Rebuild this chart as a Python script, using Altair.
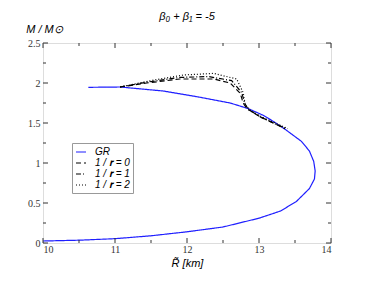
import altair as alt
import pandas as pd

# GR curve (R in km, M in solar masses)
gr_R = [10.0, 10.5, 11.0, 11.5, 12.0, 12.5, 13.0, 13.3, 13.52, 13.7, 13.77, 13.78, 13.76, 13.7,
        13.59, 13.38, 13.2, 13.05, 12.85, 12.6, 12.13, 11.67, 11.07, 10.63]
gr_M = [0.025, 0.035, 0.054, 0.09, 0.14, 0.20, 0.31, 0.40, 0.52, 0.68, 0.80, 0.90, 1.02, 1.15,
        1.27, 1.41, 1.52, 1.60, 1.68, 1.75, 1.83, 1.90, 1.95, 1.946]

r0_R = [11.07, 11.44, 11.9, 12.37, 12.6, 12.74, 12.78, 12.83, 13.01, 13.2, 13.36]
r0_M = [1.95, 2.0, 2.05, 2.05, 2.0, 1.87, 1.75, 1.68, 1.58, 1.50, 1.43]

r1_R = [11.07, 11.44, 11.9, 12.3, 12.62, 12.76, 12.8, 12.85, 13.03, 13.22, 13.38]
r1_M = [1.95, 2.01, 2.07, 2.08, 2.03, 1.88, 1.75, 1.67, 1.57, 1.49, 1.43]

r2_R = [11.07, 11.5, 11.95, 12.37, 12.69, 12.78, 12.81, 12.88, 13.05, 13.25, 13.4]
r2_M = [1.95, 2.03, 2.10, 2.12, 2.05, 1.88, 1.72, 1.66, 1.57, 1.49, 1.43]

series_names = ["GR", "1 / 𝐫 = 0", "1 / 𝐫 = 1", "1 / 𝐫 = 2"]

x_major = [10, 11, 12, 13, 14]
x_minor = [10.5, 11.5, 12.5, 13.5]
y_major = [0, 0.5, 1, 1.5, 2, 2.5]
y_minor = [0.25, 0.75, 1.25, 1.75, 2.25]

rows = []
for name, Rs, Ms in zip(series_names, [gr_R, r0_R, r1_R, r2_R], [gr_M, r0_M, r1_M, r2_M]):
    for i, (r, m) in enumerate(zip(Rs, Ms)):
        rows.append({"series": name, "R": r, "M": m, "i": i})
df = pd.DataFrame(rows)

W, H = 288, 200
xs = alt.Scale(domain=[10, 14], nice=False, zero=False)
ys = alt.Scale(domain=[0, 2.5], nice=False, zero=False)

x_axis = alt.Axis(values=x_major, format="~g", ticks=False, domain=False, grid=False,
                  labelFont="Liberation Serif", labelFontSize=10,
                  labelColor="#333", labelPadding=1,
                  title="R̃ [km]", titleFont="Liberation Sans",
                  titleFontStyle="italic", titleFontWeight="normal",
                  titleFontSize=11, titlePadding=3, titleColor="black")
y_axis = alt.Axis(values=y_major, format="~g", ticks=False, domain=False,
                  grid=False, labelFont="Liberation Serif", labelFontSize=10,
                  labelColor="#333", labelPadding=3,
                  title="M / M⊙", titleAngle=0, titleX=1, titleY=-14,
                  titleAlign="center", titleBaseline="middle",
                  titleFont="Liberation Sans", titleFontStyle="italic",
                  titleFontWeight="normal", titleFontSize=11, titleColor="black")

lines = alt.Chart(df).mark_line(strokeWidth=1.2).encode(
    x=alt.X("R:Q", scale=xs, axis=x_axis),
    y=alt.Y("M:Q", scale=ys, axis=y_axis),
    color=alt.Color("series:N", scale=alt.Scale(domain=series_names,
                                                 range=["#1f1fff", "black", "black", "black"]),
                    legend=alt.Legend(title=None, orient="none", legendX=29, legendY=100,
                                      strokeColor="#999", padding=3, fillColor="white",
                                      labelFont="Liberation Sans", labelFontStyle="italic",
                                      labelFontSize=10, symbolType="stroke", symbolSize=100,
                                      symbolStrokeWidth=1.2, rowPadding=0, labelOffset=8)),
    strokeDash=alt.StrokeDash("series:N", scale=alt.Scale(domain=series_names,
                                                           range=[[1, 0], [5, 3], [5, 2, 1, 2], [1, 2]]),
                              legend=alt.Legend(title=None, orient="none", legendX=29, legendY=100)),
    order="i:Q",
)

def ticks(vals, orient, length):
    d = pd.DataFrame({"v": vals})
    c = alt.Chart(d).mark_rule(color="#333", strokeWidth=1)
    if orient == "bottom":
        return c.encode(x=alt.X("v:Q", scale=xs, axis=x_axis, title="R̃ [km]"), y=alt.value(H), y2=alt.value(H - length))
    if orient == "top":
        return c.encode(x=alt.X("v:Q", scale=xs, axis=x_axis, title="R̃ [km]"), y=alt.value(0), y2=alt.value(length))
    if orient == "left":
        return c.encode(y=alt.Y("v:Q", scale=ys, axis=y_axis, title="M / M⊙"), x=alt.value(0), x2=alt.value(length))
    return c.encode(y=alt.Y("v:Q", scale=ys, axis=y_axis, title="M / M⊙"), x=alt.value(W), x2=alt.value(W - length))

tick_layers = []
for o in ["bottom", "top"]:
    tick_layers.append(ticks(x_major, o, 5))
    tick_layers.append(ticks(x_minor, o, 3))
for o in ["left", "right"]:
    tick_layers.append(ticks(y_major, o, 5))
    tick_layers.append(ticks(y_minor, o, 3))

chart = alt.layer(lines, *tick_layers).properties(
    width=W, height=H,
    title=alt.Title("β₀ + β₁ = -5", font="Liberation Sans", fontStyle="italic",
                    fontWeight="normal", fontSize=11, anchor="middle", offset=1, frame="group",
                    color="black"),
    autosize=alt.AutoSizeParams(type="none"),
    padding={"left": 35, "top": 35, "right": 20, "bottom": 30},
).configure_view(stroke="#333", strokeWidth=1.2).configure(background="white")

chart.save("out.html", embed_options={"renderer": "svg", "actions": False})
